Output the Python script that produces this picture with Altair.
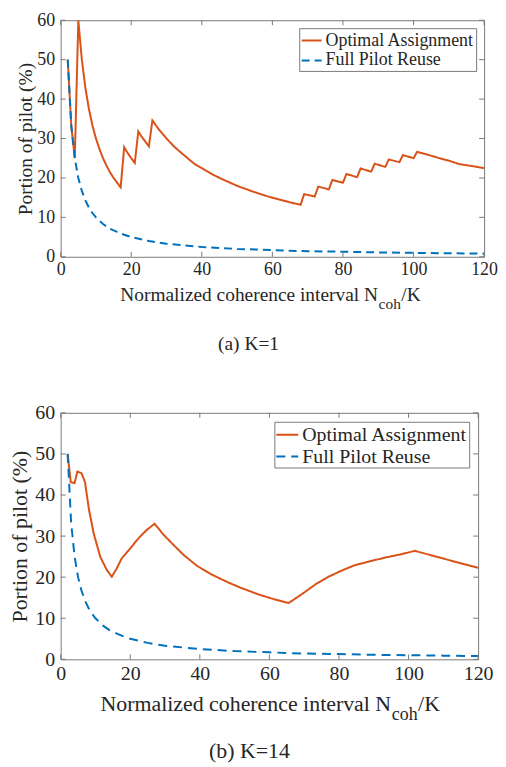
import altair as alt
import pandas as pd

FONT = "Liberation Serif, Times New Roman, Times, serif"
TXT = "#262626"
FRAME = "#7a7a7a"
SERIES = ["Optimal Assignment", "Full Pilot Reuse"]
COLORS = ["#D95319", "#0072BD"]

# (a) K=1 : optimal assignment
top_opt_x = [2, 3, 4, 5, 6, 7, 8, 9, 10, 11, 12, 13, 14, 15, 16, 17, 18, 19, 20, 21, 22, 23, 24, 25, 26, 27, 28,
             30, 32, 34, 36, 38, 40, 43, 46, 50, 54, 58, 62, 65, 68,
             69, 72, 73, 76, 77, 80, 81, 84, 85, 88, 89, 92, 93, 96, 97, 100,
             101, 104, 107, 110, 113, 116, 120]
top_opt_y = [50, 33.3, 25, 60, 50, 42.9, 37.5, 33.3, 30, 27.3, 25, 23.1, 21.4, 20, 18.8, 17.6, 27.8, 26.3, 25, 23.8,
             31.8, 30.4, 29.2, 28, 34.6, 33.3, 32.1,
             30, 28.1, 26.5, 25, 23.5, 22.5, 20.9, 19.6, 18, 16.7, 15.5, 14.5, 13.8, 13.2,
             15.9, 15.3, 17.8, 17.1, 19.5, 18.8, 21, 20.2, 22.4, 21.6, 23.6, 22.8, 24.7, 24, 25.8, 25,
             26.6, 25.9, 25.1, 24.4, 23.5, 23.1, 22.5]

# (b) K=14 : optimal assignment
bot_opt_x = [2, 2.9, 4.0, 4.8, 6.0, 7.0, 8.1, 9.5, 11.4, 13.3, 14.7, 16.1, 17.5, 19.9, 22.3, 24.6, 27.0,
             29.5, 32.6, 35.5, 39.3, 43.5, 47.7, 51.5, 57.2, 61.5, 65.5,
             68, 70.4, 73.5, 77, 80.5, 84.5, 89, 94, 98, 101.8, 108, 114, 120]
bot_opt_y = [50, 43.1, 42.9, 45.7, 45.3, 43.1, 36.6, 30.6, 24.9, 21.7, 20.1, 22.1, 24.5, 26.9, 29.4, 31.4, 33.0,
             30.4, 27.7, 25.3, 22.7, 20.6, 18.9, 17.5, 15.7, 14.6, 13.7,
             15.1, 16.5, 18.4, 20.1, 21.5, 22.9, 23.9, 24.9, 25.6, 26.4, 25.0, 23.6, 22.3]

# full pilot reuse (both panels)
reuse_x = [2, 3, 4, 5, 6, 7, 8, 9, 10, 12, 14, 16, 18, 20, 25, 30, 35, 40, 50, 60, 70, 80, 90, 100, 110, 120]
reuse_y = [50, 33.3, 25, 20, 16.7, 14.3, 12.5, 11.1, 10, 8.3, 7.1, 6.3, 5.6, 5, 4, 3.3, 2.9, 2.5, 2, 1.7, 1.4,
           1.3, 1.1, 1, 0.9, 0.8]

x_ticks = [0, 20, 40, 60, 80, 100, 120]
y_ticks = [0, 10, 20, 30, 40, 50, 60]
x_title_parts = ["Normalized coherence interval N", "coh", "/K"]
y_title = "Portion of pilot (%)"
captions = ["(a)  K=1", "(b)  K=14"]


def txt(s, x, y, size, align="left", baseline="alphabetic"):
    return alt.Chart(pd.DataFrame({"t": [s]})).mark_text(
        font=FONT, fontSize=size, align=align, baseline=baseline, color=TXT
    ).encode(x=alt.value(x), y=alt.value(y), text="t:N")


def panel(opt_x, opt_y, W, H, fs_tick, fs_title, fs_sub, dash, caption, leg_off, leg_sym, leg_pad,
          title_x, title_base, cap_x, cap_y, title_pad, tick_len):
    df = pd.DataFrame({
        "x": list(opt_x) + reuse_x,
        "y": list(opt_y) + reuse_y,
        "series": [SERIES[0]] * len(opt_x) + [SERIES[1]] * len(reuse_x),
        "i": list(range(len(opt_x))) + list(range(len(reuse_x))),
    })
    xs = alt.Scale(domain=[0, 120], nice=False, zero=False)
    ys = alt.Scale(domain=[0, 60], nice=False, zero=False)
    ax_x = alt.Axis(values=x_ticks, title=None, ticks=False, domain=False, grid=False,
                    labelFont=FONT, labelFontSize=fs_tick, labelColor=TXT, labelPadding=4,
                    labelFlush=False, format="d")
    ax_y = alt.Axis(values=y_ticks, title=y_title, ticks=False, domain=False, grid=False,
                    labelFont=FONT, labelFontSize=fs_tick, labelColor=TXT, labelPadding=6,
                    labelFlush=False, format="d", titleFont=FONT, titleFontSize=fs_title,
                    titleFontWeight="normal", titleColor=TXT, titlePadding=title_pad)
    leg = dict(title=None, orient="top-right", offset=leg_off, padding=leg_pad, rowPadding=0,
               labelFont=FONT, labelFontSize=fs_tick, labelColor=TXT, labelOffset=3,
               symbolType="stroke", symbolSize=leg_sym * leg_sym, symbolStrokeWidth=2,
               strokeColor=FRAME, fillColor="white", cornerRadius=0, labelLimit=400)
    lines = alt.Chart(df).mark_line(strokeWidth=2).encode(
        x=alt.X("x:Q", scale=xs, axis=ax_x),
        y=alt.Y("y:Q", scale=ys, axis=ax_y),
        color=alt.Color("series:N", scale=alt.Scale(domain=SERIES, range=COLORS),
                        legend=alt.Legend(**leg)),
        strokeDash=alt.StrokeDash("series:N", scale=alt.Scale(domain=SERIES, range=[[1, 0], dash]),
                                  legend=alt.Legend(**leg)),
        order="i:Q",
    )
    xt = pd.DataFrame({"x": x_ticks})
    yt = pd.DataFrame({"y": y_ticks})
    rx = alt.X("x:Q", scale=xs, axis=ax_x)
    ry = alt.Y("y:Q", scale=ys, axis=ax_y)
    t1 = alt.Chart(xt).mark_rule(color=FRAME, strokeWidth=1).encode(x=rx, y=alt.value(H), y2=alt.value(H - tick_len))
    t2 = alt.Chart(xt).mark_rule(color=FRAME, strokeWidth=1).encode(x=rx, y=alt.value(0), y2=alt.value(tick_len))
    t3 = alt.Chart(yt).mark_rule(color=FRAME, strokeWidth=1).encode(y=ry, x=alt.value(0), x2=alt.value(tick_len))
    t4 = alt.Chart(yt).mark_rule(color=FRAME, strokeWidth=1).encode(y=ry, x=alt.value(W - tick_len), x2=alt.value(W))
    w_main = 13.301 * fs_title
    w_sub = 1.444 * fs_sub
    a1 = txt(x_title_parts[0], title_x, title_base, fs_title)
    a2 = txt(x_title_parts[1], title_x + w_main + 0.5, title_base + fs_title * 0.42, fs_sub)
    a3 = txt(x_title_parts[2], title_x + w_main + w_sub + 1, title_base, fs_title)
    cap = txt(caption, cap_x, cap_y, fs_title, align="center", baseline="middle")
    return alt.layer(lines, t1, t2, t3, t4, a1, a2, a3, cap).properties(width=W, height=H)


top = panel(top_opt_x, top_opt_y, 426, 238, 18, 19.5, 15.5, [8, 5], captions[0], 8, 20, 1.5,
            60, 282, 189, 326, 1, 5)
bot = panel(bot_opt_x, bot_opt_y, 420, 248, 20, 22, 18, [9, 6], captions[1], 9, 22, 1,
            40, 300, 190, 340, 3, 5)

chart = alt.vconcat(top, bot, spacing=48).properties(
    padding=0, background="white"
).resolve_scale(
    color="independent", strokeDash="independent", x="independent", y="independent"
).resolve_legend(
    color="independent", strokeDash="independent"
).configure_view(stroke=FRAME, strokeWidth=1)

chart.save("out.html", embed_options={"renderer": "svg", "actions": False})
